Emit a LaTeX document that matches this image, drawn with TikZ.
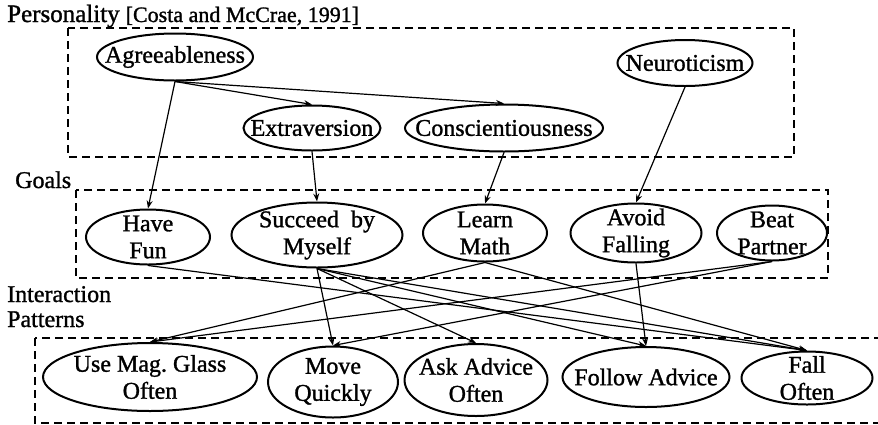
\documentclass[tikz,border=0pt]{standalone}
\usepackage{fontspec}
\setmainfont{Liberation Serif}[FakeBold=1.2]
\usetikzlibrary{shapes.geometric,arrows.meta}
\tikzset{
  oval/.style={draw, ellipse, line width=2pt, inner sep=0pt},
  lbl/.style={font=\fontsize{24}{27}\selectfont, align=center, inner sep=0pt},
  grp/.style={draw, dashed, line width=1.5pt, dash pattern=on 8pt off 5pt},
  link/.style={line width=1.2pt, -{Stealth[length=8pt,width=6pt]}},
  head/.style={font=\fontsize{24}{27}\selectfont, inner sep=0pt, anchor=base west}
}
\newcommand{\ov}[5]{\node[oval, minimum width=#3pt, minimum height=#4pt, label={[lbl]center:{#5}}] (#1) at #2 {};}
\begin{document}
\begin{tikzpicture}[x=1pt,y=-1pt]
\clip (0,0) rectangle (878,424);
\fill[white] (0,0) rectangle (878,424);
% group boxes
\draw[grp] (68,28) rectangle (794,157);
\draw[grp] (76,190) rectangle (828,278);
\draw[grp] (35,338) rectangle (900,423);
% headings
\node[head] (hp) at (7,22) {{\fontsize{25}{27}\selectfont Personality} {\fontsize{22}{24}\selectfont[Costa and McCrae, 1991]}};
\node[head] (hg) at (15,188) {Goals};
\node[head] (hi) at (7,302) {Interaction};
\node[head] (hpat) at (7,327) {Patterns};
% personality
\ov{agr}{(175,57)}{156}{47}{Agreeableness}
\ov{ext}{(312,128)}{137}{45}{Extraversion}
\ov{con}{(504,128)}{198}{47}{Conscientiousness}
\ov{neu}{(685,63)}{135}{46}{Neuroticism}
% goals
\ov{fun}{(148,237)}{124}{55}{Have\\Fun}
\ov{suc}{(317,235)}{171}{65}{Succeed~~by\\Myself}
\ov{lea}{(485,233)}{124}{57}{Learn\\Math}
\ov{avo}{(636,233)}{131}{59}{Avoid\\Falling}
\ov{bea}{(772,233)}{110}{55}{Beat\\Partner}
% interaction patterns
\ov{mag}{(150,377)}{214}{68}{Use Mag.\ Glass\\Often}
\ov{mov}{(333,382)}{130}{71}{Move\\Quickly}
\ov{ask}{(476,380)}{143}{72}{Ask Advice\\Often}
\ov{fol}{(646,377)}{167}{60}{Follow Advice}
\ov{fal}{(807,378)}{131}{53}{Fall\\Often}
% personality -> goals
\draw[link] (agr.south) -- (ext.north);
\draw[link] (agr.south) -- (con.north);
\draw[link] (agr.south) -- (fun.north);
\draw[link] (ext.south) -- (suc.north);
\draw[link] (con.south) -- (lea.north);
\draw[link] (neu.south) -- (avo.north);
% goals -> interaction
\draw[link] (fun.south) -- (fal.north);
\draw[link] (suc.south) -- (mov.north);
\draw[link] (suc.south) -- (ask.north);
\draw[link] (suc.south) -- (fol.north);
\draw[link] (suc.south) -- (fal.north);
\draw[link] (lea.south) -- (mag.north);
\draw[link] (lea.south) -- (fal.north);
\draw[link] (avo.south) -- (fol.north);
\draw[link] (bea.south) -- (mag.north);
\draw[link] (bea.south) -- (mov.north);
\end{tikzpicture}
\end{document}
